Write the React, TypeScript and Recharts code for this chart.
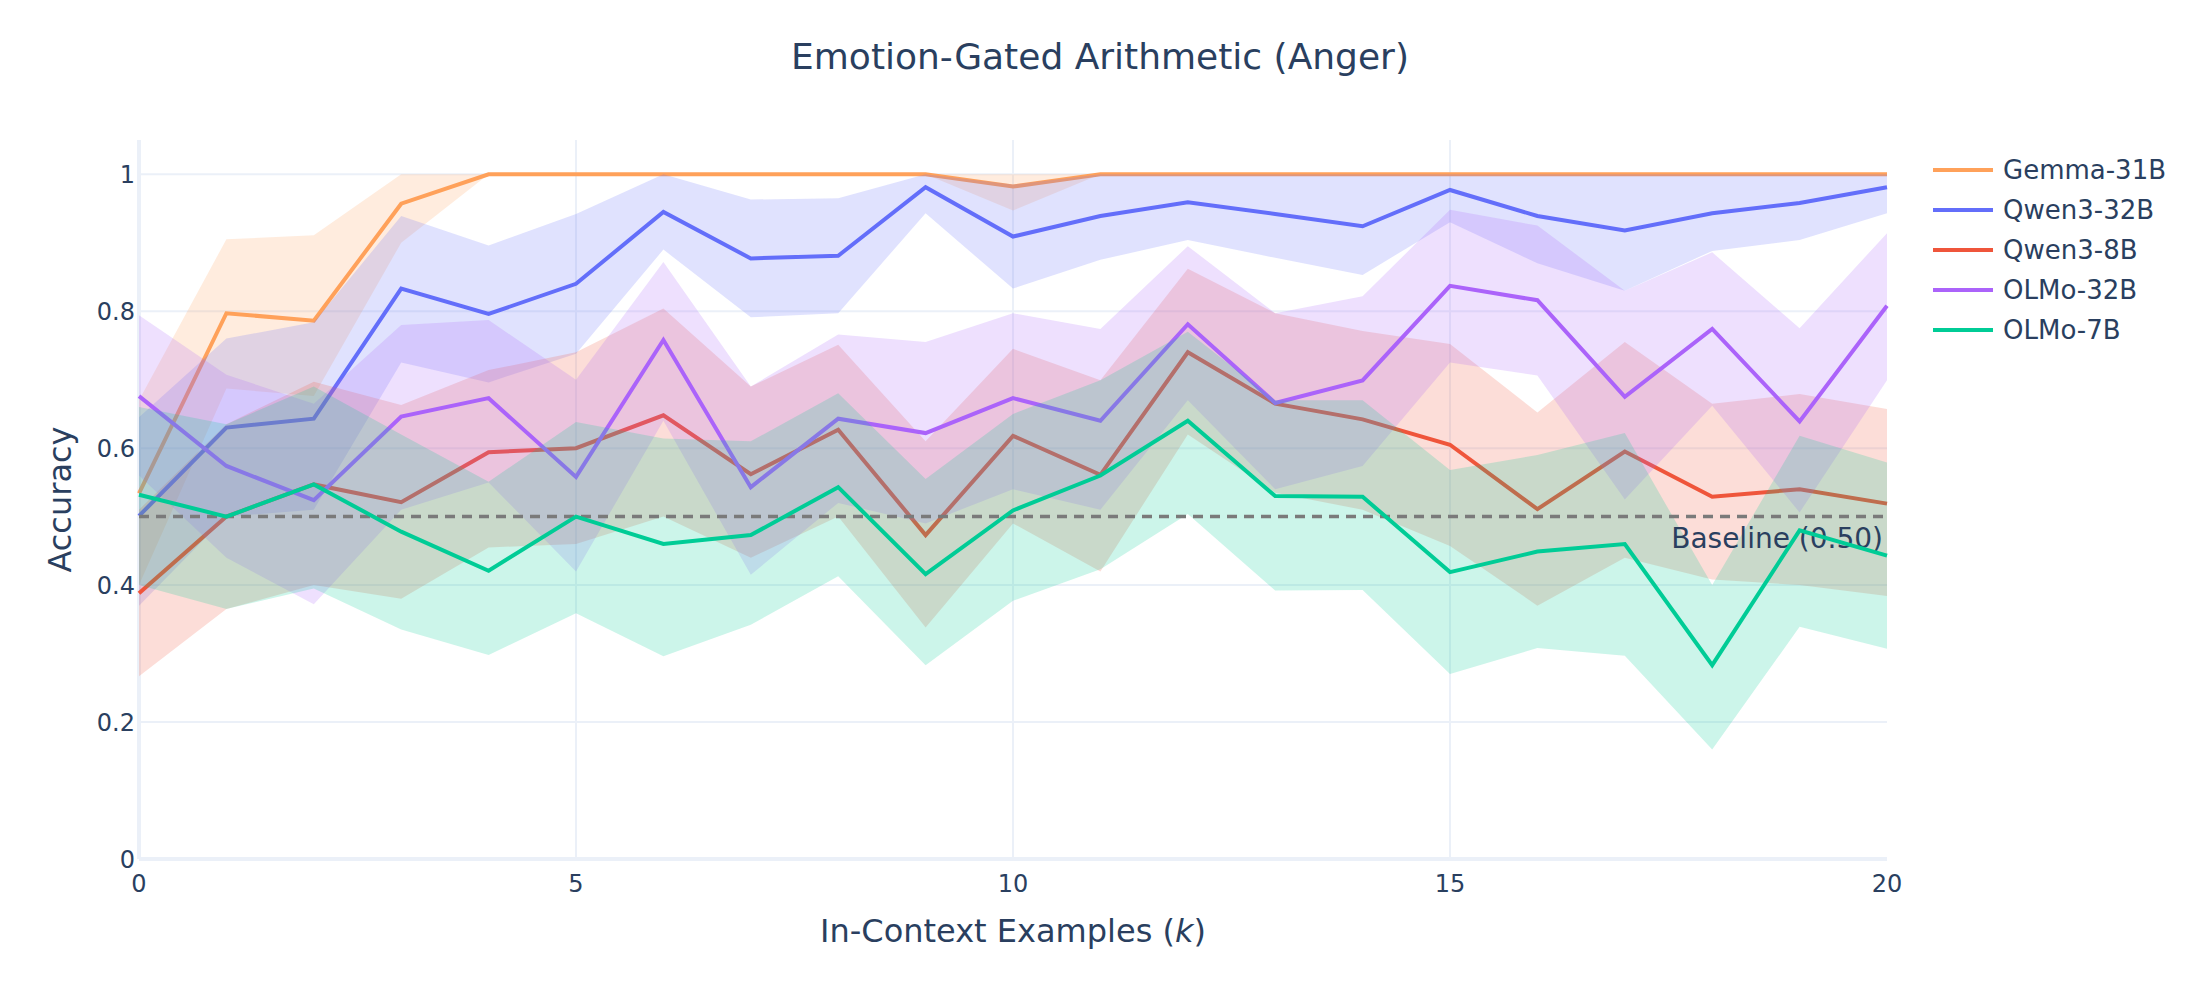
import React from 'react'
import {
  ComposedChart,
  Area,
  Line,
  XAxis,
  YAxis,
  CartesianGrid,
  ReferenceLine,
} from 'recharts'

const kValues = [0, 1, 2, 3, 4, 5, 6, 7, 8, 9, 10, 11, 12, 13, 14, 15, 16, 17, 18, 19, 20]
const xTicks = [0, 5, 10, 15, 20]
const yTicks = [0, 0.2, 0.4, 0.6, 0.8, 1]

const gemmaMean = [0.534, 0.797, 0.786, 0.957, 1, 1, 1, 1, 1, 1, 0.982, 1, 1, 1, 1, 1, 1, 1, 1, 1, 1]
const gemmaLo = [0.4, 0.687, 0.676, 0.9, 1, 1, 1, 1, 1, 1, 0.947, 1, 1, 1, 1, 1, 1, 1, 1, 1, 1]
const gemmaHi = [0.67, 0.905, 0.911, 1, 1, 1, 1, 1, 1, 1, 1, 1, 1, 1, 1, 1, 1, 1, 1, 1, 1]

const qwen32Mean = [0.501, 0.63, 0.643, 0.833, 0.796, 0.84, 0.945, 0.877, 0.881, 0.981, 0.909, 0.939, 0.959, 0.942, 0.924, 0.977, 0.939, 0.918, 0.943, 0.958, 0.981]
const qwen32Lo = [0.37, 0.5, 0.51, 0.725, 0.696, 0.738, 0.89, 0.791, 0.797, 0.943, 0.833, 0.875, 0.904, 0.878, 0.853, 0.93, 0.87, 0.83, 0.888, 0.904, 0.943]
const qwen32Hi = [0.645, 0.76, 0.784, 0.939, 0.896, 0.942, 1, 0.963, 0.965, 1, 0.985, 1, 1, 1, 1, 1, 1, 1, 1, 1, 1]

const qwen8Mean = [0.388, 0.5, 0.547, 0.521, 0.594, 0.6, 0.648, 0.562, 0.627, 0.473, 0.618, 0.561, 0.74, 0.665, 0.642, 0.605, 0.511, 0.595, 0.529, 0.54, 0.519]
const qwen8Lo = [0.267, 0.365, 0.4, 0.38, 0.455, 0.46, 0.5, 0.44, 0.5, 0.338, 0.49, 0.42, 0.62, 0.535, 0.51, 0.457, 0.37, 0.44, 0.408, 0.4, 0.384]
const qwen8Hi = [0.51, 0.635, 0.697, 0.663, 0.714, 0.74, 0.804, 0.69, 0.751, 0.61, 0.745, 0.699, 0.862, 0.797, 0.771, 0.752, 0.652, 0.755, 0.665, 0.679, 0.657]

const olmo32Mean = [0.676, 0.574, 0.524, 0.646, 0.673, 0.558, 0.758, 0.543, 0.643, 0.622, 0.673, 0.64, 0.781, 0.666, 0.699, 0.837, 0.816, 0.675, 0.774, 0.639, 0.808]
const olmo32Lo = [0.56, 0.44, 0.372, 0.51, 0.55, 0.42, 0.64, 0.415, 0.52, 0.49, 0.54, 0.51, 0.67, 0.54, 0.574, 0.725, 0.706, 0.525, 0.662, 0.506, 0.699]
const olmo32Hi = [0.794, 0.707, 0.665, 0.78, 0.787, 0.7, 0.872, 0.69, 0.766, 0.755, 0.797, 0.774, 0.895, 0.797, 0.822, 0.948, 0.925, 0.83, 0.886, 0.775, 0.914]

const olmo7Mean = [0.532, 0.5, 0.547, 0.478, 0.421, 0.5, 0.46, 0.473, 0.543, 0.416, 0.509, 0.56, 0.64, 0.53, 0.529, 0.419, 0.449, 0.46, 0.283, 0.48, 0.443]
const olmo7Lo = [0.4, 0.365, 0.395, 0.335, 0.298, 0.359, 0.296, 0.342, 0.413, 0.283, 0.377, 0.423, 0.504, 0.392, 0.393, 0.27, 0.308, 0.297, 0.16, 0.339, 0.307]
const olmo7Hi = [0.66, 0.635, 0.69, 0.62, 0.551, 0.638, 0.614, 0.61, 0.68, 0.555, 0.65, 0.699, 0.77, 0.67, 0.67, 0.568, 0.59, 0.622, 0.4, 0.618, 0.579]

const series = [
  { key: 'gemma', name: 'Gemma-31B', color: '#FFA15A', rgb: '255,161,90', mean: gemmaMean, lo: gemmaLo, hi: gemmaHi },
  { key: 'qwen32', name: 'Qwen3-32B', color: '#636EFA', rgb: '99,110,250', mean: qwen32Mean, lo: qwen32Lo, hi: qwen32Hi },
  { key: 'qwen8', name: 'Qwen3-8B', color: '#EF553B', rgb: '239,85,59', mean: qwen8Mean, lo: qwen8Lo, hi: qwen8Hi },
  { key: 'olmo32', name: 'OLMo-32B', color: '#AB63FA', rgb: '171,99,250', mean: olmo32Mean, lo: olmo32Lo, hi: olmo32Hi },
  { key: 'olmo7', name: 'OLMo-7B', color: '#00CC96', rgb: '0,204,150', mean: olmo7Mean, lo: olmo7Lo, hi: olmo7Hi },
]

const data = kValues.map((k, i) => {
  const row: Record<string, number | number[]> = { k }
  series.forEach(s => {
    row[s.key] = s.mean[i]
    row[s.key + 'Band'] = [s.lo[i], s.hi[i]]
  })
  return row
})

const FONT = '"DejaVu Sans", "Open Sans", sans-serif'
const TEXT = '#2a3f5f'
const GRID = '#EBF0F8'

export default function App() {
  const items: React.ReactNode[] = []
  series.forEach((s, i) => {
    items.push(
      <Area
        key={s.key + 'Band'}
        type="linear"
        dataKey={s.key + 'Band'}
        stroke="none"
        fill={`rgba(${s.rgb},0.2)`}
        fillOpacity={1}
        isAnimationActive={false}
        activeDot={false}
        zIndex={100 + i * 10}
      />
    )
    if (i === series.length - 1) {
      // dashed baseline sits above the bands, under the last line
      items.push(
        <ReferenceLine
          key="baseline"
          y={0.5}
          stroke="#7a7a7a"
          strokeWidth={3.5}
          strokeDasharray="10 7"
          zIndex={142}
          label={(props: any) => {
            const vb = props.viewBox
            return (
              <text
                x={vb.x + vb.width - 4}
                y={vb.y + 22}
                textAnchor="end"
                dominantBaseline="central"
                fontSize={28}
                fontFamily={FONT}
                fill={TEXT}
              >
                Baseline (0.50)
              </text>
            )
          }}
        />
      )
    }
    items.push(
      <Line
        key={s.key}
        type="linear"
        dataKey={s.key}
        name={s.name}
        stroke={s.color}
        strokeWidth={4}
        dot={false}
        activeDot={false}
        isAnimationActive={false}
        zIndex={105 + i * 10}
      />
    )
  })

  return (
    <div style={{ position: 'absolute', left: 0, top: 0, width: 2200, height: 1000, background: '#fff', fontFamily: FONT }}>
      <div
        style={{
          position: 'absolute',
          left: 0,
          top: 36,
          width: 2200,
          height: 42,
          lineHeight: '42px',
          textAlign: 'center',
          fontSize: 36,
          color: TEXT,
        }}
      >
        Emotion-Gated Arithmetic (Anger)
      </div>

      <ComposedChart
        width={2200}
        height={1000}
        data={data}
        margin={{ top: 140, right: 313, bottom: 81, left: 59 }}
        style={{ fontFamily: FONT }}
      >
        <CartesianGrid
          stroke={GRID}
          strokeWidth={2}
          verticalValues={[5, 10, 15]}
          horizontalValues={[0.2, 0.4, 0.6, 0.8, 1]}
        />
        <ReferenceLine x={0} stroke={GRID} strokeWidth={4} zIndex={50} />
        <ReferenceLine y={0} stroke={GRID} strokeWidth={4} zIndex={50} />
        <XAxis
          type="number"
          dataKey="k"
          domain={[0, 20]}
          ticks={xTicks}
          height={60}
          axisLine={false}
          tickLine={false}
          tickSize={0}
          tickMargin={16}
          tick={{ fill: TEXT, fontSize: 24, fontFamily: FONT }}
          label={(props: any) => {
            const vb = props.viewBox
            return (
              <text
                x={vb.x + vb.width / 2}
                y={931}
                textAnchor="middle"
                dominantBaseline="central"
                fontSize={32}
                fontFamily={FONT}
                fill={TEXT}
              >
                In-Context Examples (<tspan fontStyle="italic">k</tspan>)
              </text>
            )
          }}
        />
        <YAxis
          type="number"
          domain={[0, 1.05]}
          ticks={yTicks}
          width={80}
          axisLine={false}
          tickLine={false}
          tickSize={0}
          tickMargin={4}
          allowDataOverflow
          tickFormatter={(v: number) => String(v)}
          tick={{ fill: TEXT, fontSize: 24, fontFamily: FONT }}
          label={(props: any) => {
            const vb = props.viewBox
            const cy = vb.y + vb.height / 2
            return (
              <text
                x={60}
                y={cy}
                transform={`rotate(-90, 60, ${cy})`}
                textAnchor="middle"
                dominantBaseline="central"
                fontSize={32}
                fontFamily={FONT}
                fill={TEXT}
              >
                Accuracy
              </text>
            )
          }}
        />
        {items}
      </ComposedChart>

      <div style={{ position: 'absolute', left: 1933, top: 150 }}>
        {series.map(s => (
          <div key={s.key} style={{ height: 40, display: 'flex', alignItems: 'center' }}>
            <span style={{ width: 60, height: 4, background: s.color, display: 'inline-block' }} />
            <span style={{ marginLeft: 10, fontSize: 26, color: TEXT, whiteSpace: 'nowrap' }}>{s.name}</span>
          </div>
        ))}
      </div>
    </div>
  )
}
